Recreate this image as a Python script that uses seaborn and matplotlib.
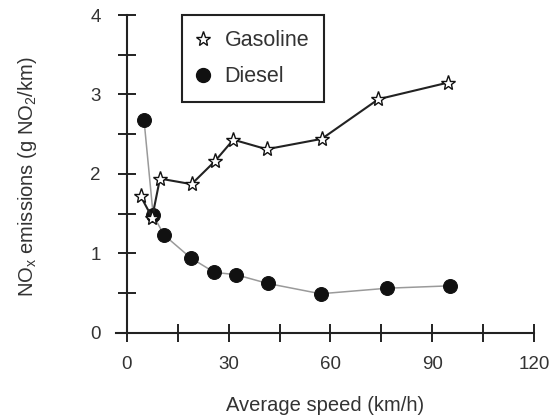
import matplotlib
matplotlib.use("Agg")
import matplotlib.pyplot as plt
import seaborn as sns
from matplotlib.lines import Line2D

# data
gas_speed = [4.1, 7.5, 9.8, 19.1, 26.0, 31.4, 41.2, 57.4, 74.1, 94.7]
gas_nox = [1.72, 1.45, 1.94, 1.87, 2.16, 2.43, 2.31, 2.44, 2.94, 3.15]

diesel_speed = [5.1, 7.8, 11.0, 18.9, 25.8, 32.2, 41.5, 57.1, 76.7, 95.2]
diesel_nox = [2.68, 1.48, 1.23, 0.94, 0.76, 0.73, 0.62, 0.49, 0.56, 0.59]

x_ticks = [0, 15, 30, 45, 60, 75, 90, 105, 120]
x_tick_labels = ["0", "", "30", "", "60", "", "90", "", "120"]
y_ticks = [0, 0.5, 1, 1.5, 2, 2.5, 3, 3.5, 4]
y_tick_labels = ["0", "", "1", "", "2", "", "3", "", "4"]

sns.set_style("white")
plt.rcParams['font.family'] = ['Liberation Sans', 'DejaVu Sans']
plt.rcParams['mathtext.default'] = 'regular'

txt = "#333333"

fig = plt.figure(figsize=(5.51, 4.19), dpi=100)
ax = fig.add_axes([0.2114, 0.2060, 0.7583, 0.7582])

# Diesel (grey line, filled circles)
sns.lineplot(x=diesel_speed, y=diesel_nox, ax=ax, color="#9a9a9a", linewidth=1.1,
             marker="o", markersize=10, markerfacecolor="#111111",
             markeredgecolor="#111111", zorder=3)
# Gasoline (black line, stars)
sns.lineplot(x=gas_speed, y=gas_nox, ax=ax, color="#222222", linewidth=1.5,
             marker="*", markersize=11, markerfacecolor="white",
             markeredgecolor="#111111", markeredgewidth=1.0, zorder=4)

ax.set_xlim(-3, 120)
ax.set_ylim(0, 4)

for s in ["top", "right"]:
    ax.spines[s].set_visible(False)
ax.spines["left"].set_position(("data", 0))
for s in ["left", "bottom"]:
    ax.spines[s].set_color("#222222")
    ax.spines[s].set_linewidth(1.5)

ax.set_xticks(x_ticks)
ax.set_xticklabels(x_tick_labels)
ax.set_yticks(y_ticks)
ax.set_yticklabels(y_tick_labels)
ax.tick_params(axis="both", bottom=True, left=True, direction="inout",
               length=13.5, width=1.4, color="#222222", labelsize=13.5,
               labelcolor=txt)
ax.tick_params(axis="x", pad=10)
ax.tick_params(axis="y", pad=12)

ax.set_xlabel("Average speed (km/h)", fontsize=14.5, color=txt)
ax.set_ylabel("NO$_x$ emissions (g NO$_2$/km)", fontsize=14.5, color=txt)
ax.xaxis.set_label_coords(0.5, -0.2)
ax.yaxis.set_label_coords(-0.185, 0.49)

handles = [
    Line2D([], [], linestyle="none", marker="*", markersize=11,
           markerfacecolor="white", markeredgecolor="#111111", markeredgewidth=1.0),
    Line2D([], [], linestyle="none", marker="o", markersize=10,
           markerfacecolor="#111111", markeredgecolor="#111111"),
]
leg = ax.legend(handles, ["Gasoline", "Diesel"], loc="upper left",
                bbox_to_anchor=(0.156, 1.0), borderaxespad=0, fancybox=False,
                framealpha=1, edgecolor="#222222", fontsize=15.5,
                handlelength=0.6, handletextpad=0.7, borderpad=0.7,
                labelspacing=0.7)
leg.get_frame().set_linewidth(1.5)
for t in leg.get_texts():
    t.set_color(txt)

plt.savefig("out.png", dpi=100)
plt.close()
